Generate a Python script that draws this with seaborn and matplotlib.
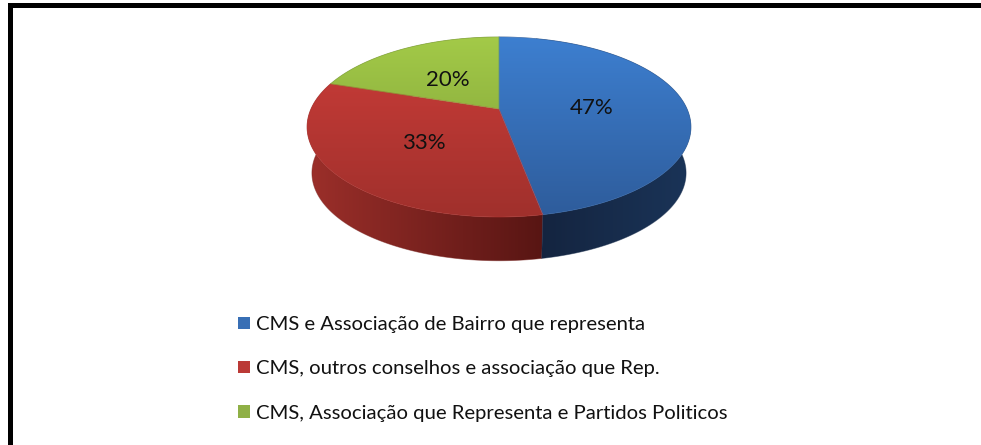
import numpy as np
import matplotlib
matplotlib.use('Agg')
import matplotlib.pyplot as plt
from matplotlib.patches import Patch, Polygon, Rectangle
import seaborn as sns

categorias = ['CMS e Associação de Bairro que representa',
              'CMS, outros conselhos e associação que Rep.',
              'CMS, Associação que Representa e Partidos Politicos']
valores = [47, 33, 20]

cores_legenda = ['#386fb5', '#bb3a36', '#8fb046']
cores_topo = [('#3d7fd0', '#2e5c9b'), ('#cc3d39', '#a0302c'), ('#a3ca48', '#7a9a36')]
cores_lado = [('#14243f', '#1a3458'), ('#9c2f2a', '#571513'), ('#6d8a30', '#4f6523')]

# perspectiva da pizza (em pixels)
CX, CY, K, C, A = 499.0, 109.0, 188.0, 0.2, -64.6
PROF, ESC = 46.0, 0.975


def projeta(x, y):
    d = 1 + C * y
    return CX + K * x / d, (A * y + CY) / d


def projeta_base(x, y):
    px, py = projeta(x, y)
    return CX + ESC * (px - CX), 127 + ESC * (py - 127) + PROF


def gradiente(ax, pts, c1, c2, extent, horizontal=False, z=1):
    cmap = sns.blend_palette([c1, c2], as_cmap=True)
    g = np.linspace(0, 1, 256)
    g = g.reshape(1, -1) if horizontal else g.reshape(-1, 1)
    im = ax.imshow(g, extent=extent, aspect='auto', cmap=cmap, vmin=0, vmax=1,
                   origin='upper', zorder=z, interpolation='bilinear')
    im.set_clip_path(Polygon(pts, closed=True, transform=ax.transData))
    # borda fina para suavizar o recorte
    ax.add_patch(Polygon(pts, closed=True, fill=False, edgecolor=sns.blend_palette([c1, c2], 3)[1],
                         linewidth=0.6, alpha=0.5, zorder=z + 0.1))


sns.set_theme(style='white')
plt.rcParams['font.family'] = ['Lato', 'DejaVu Sans']

fig = plt.figure(figsize=(9.81, 4.45), dpi=100)
ax = fig.add_axes([0, 0, 1, 1])

wedges, _, autotexts = ax.pie(valores, startangle=90, counterclock=False, autopct='%.0f%%', pctdistance=0.5)

for i, w in enumerate(wedges):
    t = np.radians(np.linspace(w.theta1, w.theta2, 200))
    x, y = np.cos(t), np.sin(t)
    w.set_visible(False)

    # lado
    bx, by = projeta_base(x, y)
    tx, ty = projeta(x, y)
    lado = np.column_stack([np.r_[tx, bx[::-1]], np.r_[ty, by[::-1]]])
    extent_lado = (307, 546, 280, 30) if i != 0 else (536, 691, 280, 30)
    gradiente(ax, lado, cores_lado[i][0], cores_lado[i][1], extent_lado, horizontal=True, z=1 if i else 1.5)

    # topo
    topo = np.vstack([[projeta(0, 0)], np.column_stack([tx, ty])])
    gradiente(ax, topo, cores_topo[i][0], cores_topo[i][1], (300, 700, 217, 37), z=3)

for t in autotexts:
    px, py = projeta(*t.get_position())
    t.set_position((px, py + 3))
    t.set_fontsize(16)
    t.set_color('#111111')
    t.set_zorder(5)

# moldura
ax.add_patch(Rectangle((8, 3), 973, 5, color='black', zorder=6, linewidth=0))
ax.add_patch(Rectangle((8, 3), 5, 442, color='black', zorder=6, linewidth=0))

ax.set_xlim(0, 981)
ax.set_ylim(445, 0)
ax.set_aspect('auto')
ax.axis('off')

handles = [Patch(facecolor=c, edgecolor='none') for c in cores_legenda]
ax.legend(handles, categorias, loc='upper left', bbox_to_anchor=(232, 310), bbox_transform=ax.transData,
          frameon=False, fontsize=14.6, labelspacing=1.345, handlelength=0.57, handleheight=0.57,
          handletextpad=0.3, borderpad=0.3, borderaxespad=0, labelcolor='#111111')

fig.savefig('out.png', dpi=100)
